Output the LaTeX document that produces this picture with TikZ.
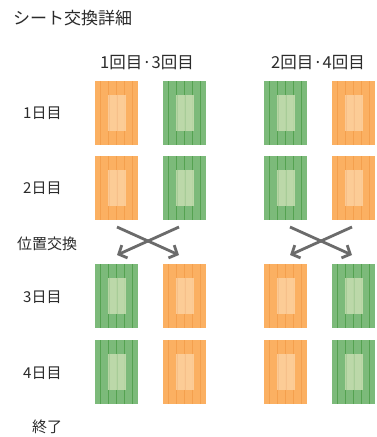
\documentclass[tikz,border=0pt]{standalone}
\usepackage{fontspec}
\setmainfont{Noto Sans CJK JP}
\usetikzlibrary{arrows.meta,calc}
\definecolor{orfill}{HTML}{FBB062}
\definecolor{orline}{HTML}{F4A04E}
\definecolor{orin}{HTML}{FDD1A0}
\definecolor{orinline}{HTML}{F6C08A}
\definecolor{grfill}{HTML}{7CBA7A}
\definecolor{grline}{HTML}{55A251}
\definecolor{grin}{HTML}{C8DEB2}
\definecolor{grinline}{HTML}{A8CC98}
\definecolor{arr}{HTML}{6B6B6B}
\definecolor{txt}{HTML}{2B2B2B}
\tikzset{
  lbl/.style={text=txt,font=\fontsize{15}{17}\selectfont,inner sep=0pt},
  hdr/.style={text=txt,font=\fontsize{16.5}{18}\selectfont,inner sep=0pt},
  ttl/.style={text=txt,font=\fontsize{17}{19}\selectfont,inner sep=0pt},
  xarrow/.style={draw=arr,line width=2.8pt,-{Straight Barb[length=6.5pt,width=14pt]}},
}
% sheet macro: #1 name, #2 x left, #3 y top, #4 fill, #5 line, #6 inner, #7 inner line
\newcommand{\sheet}[7]{%
  \node[draw=none,fill=#4,minimum width=43pt,minimum height=64pt,inner sep=0pt,anchor=north west] (#1) at (#2,#3) {};
  \foreach \k in {0,...,4}{
    \draw[#5,line width=0.9pt] ($(#1.north west)+(5.5+8.1*\k,0)$) -- ($(#1.south west)+(5.5+8.1*\k,0)$);
  }
  \node[fill=#6,fill opacity=0.85,minimum width=18pt,minimum height=36pt,inner sep=0pt] (#1in) at ($(#1.center)+(0.5,-0.5)$) {};
  \draw[#7,line width=0.6pt] ($(#1in.north west)+(5.5+8.1*1-12,0)$) -- ($(#1in.south west)+(5.5+8.1*1-12,0)$);
  \draw[#7,line width=0.6pt] ($(#1in.north west)+(5.5+8.1*2-12,0)$) -- ($(#1in.south west)+(5.5+8.1*2-12,0)$);
}
\newcommand{\osheet}[3]{\sheet{#1}{#2}{#3}{orfill}{orline}{orin}{orinline}}
\newcommand{\gsheet}[3]{\sheet{#1}{#2}{#3}{grfill}{grline}{grin}{grinline}}
\begin{document}
\begin{tikzpicture}[x=1pt,y=-1pt]
\useasboundingbox[fill=white] (0,0) rectangle (377,437);
\node[ttl,anchor=west] (title) at (13,18) {シート交換詳細};
\node[hdr,anchor=west] (h1) at (100,63) {1回目·3回目};
\node[hdr,anchor=west] (h2) at (271,63) {2回目·4回目};
\node[lbl,anchor=west] (d1) at (23,113) {1日目};
\node[lbl,anchor=west] (d2) at (23,188) {2日目};
\node[lbl,anchor=west] (sw) at (17,244) {位置交換};
\node[lbl,anchor=west] (d3) at (23,297) {3日目};
\node[lbl,anchor=west] (d4) at (23,373) {4日目};
\node[lbl,anchor=west] (end) at (32,427) {終了};
% row 1
\osheet{a1}{95}{81}
\gsheet{b1}{163}{81}
\gsheet{c1}{264}{81}
\osheet{e1}{332}{81}
% row 2
\osheet{a2}{95}{156}
\gsheet{b2}{163}{156}
\gsheet{c2}{264}{156}
\osheet{e2}{332}{156}
% row 3
\gsheet{a3}{95}{264}
\osheet{b3}{163}{264}
\osheet{c3}{264}{264}
\gsheet{e3}{332}{264}
% row 4
\gsheet{a4}{95}{340}
\osheet{b4}{163}{340}
\osheet{c4}{264}{340}
\gsheet{e4}{332}{340}
% arrows
\coordinate (l1s) at (117,227);
\coordinate (l1e) at (179,255);
\coordinate (l2s) at (179,227);
\coordinate (l2e) at (117,255);
\coordinate (r1s) at (290,227);
\coordinate (r1e) at (352,255);
\coordinate (r2s) at (352,227);
\coordinate (r2e) at (290,255);
\draw[xarrow] (l1s) -- (l1e);
\draw[xarrow] (l2s) -- (l2e);
\draw[xarrow] (r1s) -- (r1e);
\draw[xarrow] (r2s) -- (r2e);
\end{tikzpicture}
\end{document}
